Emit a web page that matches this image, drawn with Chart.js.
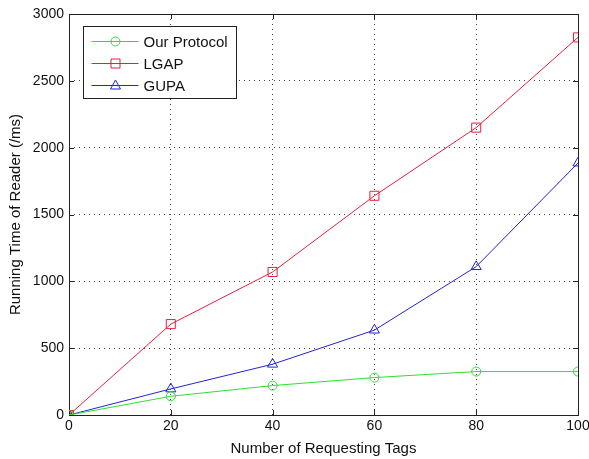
<!DOCTYPE html>
<html>
<head>
<meta charset="utf-8">
<script src="https://cdn.jsdelivr.net/npm/chart.js@4/dist/chart.umd.min.js"></script>
<style>
  html, body { margin: 0; padding: 0; background: #fff; }
  #wrap { width: 589px; height: 459px; }
</style>
</head>
<body>
<div id="wrap"><canvas id="chart"></canvas></div>
<script>
// Data
const tags = [0, 20, 40, 60, 80, 100];
const ourProtocol = [0, 140, 220, 280, 325, 325];
const lgap = [0, 680, 1070, 1640, 2150, 2825];
const gupa = [0, 195, 380, 635, 1110, 1885];
const seriesNames = ['Our Protocol', 'LGAP', 'GUPA'];

const FONT = 'Liberation Sans, Arial, sans-serif';
const GREEN = '#2ee02e';
const RED = '#e4203c';
const BLUE = '#2323d8';

function points(values) {
    return tags.map((t, i) => ({ x: t, y: values[i] }));
}

// marker drawing shared by the legend
function drawMarker(ctx, style, x, y, color) {
    ctx.save();
    ctx.strokeStyle = color;
    ctx.lineWidth = 1;
    ctx.beginPath();
    if (style === 'circle') {
        ctx.arc(x, y, 4.5, 0, Math.PI * 2);
    } else if (style === 'rect') {
        ctx.rect(x - 4.5, y - 4.5, 9, 9);
    } else {
        ctx.moveTo(x, y - 5.5);
        ctx.lineTo(x + 5, y + 3.5);
        ctx.lineTo(x - 5, y + 3.5);
        ctx.closePath();
    }
    ctx.stroke();
    ctx.restore();
}

// Axes box with inward ticks (matlab look)
const framePlugin = {
    id: 'frame',
    beforeDatasetsDraw(chart) {
        const ctx = chart.ctx;
        const a = chart.chartArea;
        const xs = chart.scales.x, ys = chart.scales.y;
        ctx.save();
        ctx.strokeStyle = '#222';
        ctx.lineWidth = 1;
        ctx.strokeRect(Math.round(a.left) + 0.5, Math.round(a.top) + 0.5,
            Math.round(a.right - a.left), Math.round(a.bottom - a.top));
        ctx.beginPath();
        xs.ticks.forEach(t => {
            const px = Math.round(xs.getPixelForValue(t.value)) + 0.5;
            ctx.moveTo(px, a.bottom); ctx.lineTo(px, a.bottom - 5);
            ctx.moveTo(px, a.top); ctx.lineTo(px, a.top + 5);
        });
        ys.ticks.forEach(t => {
            const py = Math.round(ys.getPixelForValue(t.value)) + 0.5;
            ctx.moveTo(a.left, py); ctx.lineTo(a.left + 5, py);
            ctx.moveTo(a.right, py); ctx.lineTo(a.right - 5, py);
        });
        ctx.stroke();
        ctx.restore();
    },
    afterDraw(chart) {
        // legend box inside the axes
        const ctx = chart.ctx;
        const a = chart.chartArea;
        const bx = a.left + 14.5, by = a.top + 12.5, bw = 153, bh = 72;
        ctx.save();
        ctx.fillStyle = '#fff';
        ctx.fillRect(bx, by, bw, bh);
        ctx.strokeStyle = '#222';
        ctx.lineWidth = 1;
        ctx.strokeRect(bx, by, bw, bh);
        const styles = ['circle', 'rect', 'triangle'];
        const colors = [GREEN, RED, BLUE];
        ctx.font = '15px ' + FONT;
        ctx.textBaseline = 'middle';
        seriesNames.forEach((name, i) => {
            const ry = Math.round(by + 14 + i * 22) + 0.5;
            ctx.strokeStyle = colors[i];
            ctx.beginPath();
            ctx.moveTo(bx + 8, ry);
            ctx.lineTo(bx + 55, ry);
            ctx.stroke();
            drawMarker(ctx, styles[i], bx + 32, ry, colors[i]);
            ctx.fillStyle = '#111';
            ctx.fillText(name, bx + 60, ry + 1);
        });
        ctx.restore();
    }
};

const ctx = document.getElementById('chart').getContext('2d');
new Chart(ctx, {
    type: 'line',
    data: {
        datasets: [
            {
                label: seriesNames[0],
                data: points(ourProtocol),
                borderColor: GREEN,
                backgroundColor: 'transparent',
                borderWidth: 1,
                pointStyle: 'circle',
                pointRadius: 4.5,
                pointBorderColor: GREEN,
                pointBackgroundColor: 'transparent',
                pointBorderWidth: 1
            },
            {
                label: seriesNames[1],
                data: points(lgap),
                borderColor: RED,
                backgroundColor: 'transparent',
                borderWidth: 1,
                pointStyle: 'rect',
                pointRadius: 6.4,
                pointBorderColor: RED,
                pointBackgroundColor: 'transparent',
                pointBorderWidth: 1
            },
            {
                label: seriesNames[2],
                data: points(gupa),
                borderColor: BLUE,
                backgroundColor: 'transparent',
                borderWidth: 1,
                pointStyle: 'triangle',
                pointRadius: 5.8,
                pointBorderColor: BLUE,
                pointBackgroundColor: 'transparent',
                pointBorderWidth: 1
            }
        ]
    },
    options: {
        responsive: true,
        maintainAspectRatio: false,
        animation: false,
        layout: { padding: { left: 0, top: 14, right: 11, bottom: 0 } },
        plugins: {
            legend: { display: false },
            tooltip: { enabled: false }
        },
        scales: {
            x: {
                type: 'linear',
                min: 0,
                max: 100,
                afterFit: s => { s.height = 44; s.paddingRight = 0; s.paddingLeft = 0; },
                ticks: {
                    stepSize: 20,
                    color: '#111',
                    padding: 3,
                    font: { family: FONT, size: 14 },
                    callback: v => String(v)
                },
                grid: { color: '#444', lineWidth: 1, drawTicks: false },
                border: { display: false, dash: [1, 4] },
                title: {
                    display: true,
                    text: 'Number of Requesting Tags',
                    color: '#111',
                    font: { family: FONT, size: 15 },
                    padding: { top: 0, bottom: 1 }
                }
            },
            y: {
                min: 0,
                max: 3000,
                afterFit: s => { s.width = 69; },
                ticks: {
                    stepSize: 500,
                    color: '#111',
                    padding: 5,
                    font: { family: FONT, size: 14 },
                    callback: v => String(v)
                },
                grid: { color: '#444', lineWidth: 1, drawTicks: false },
                border: { display: false, dash: [1, 4] },
                title: {
                    display: true,
                    text: 'Running Time of Reader (/ms)',
                    color: '#111',
                    font: { family: FONT, size: 15 },
                    padding: { top: 7, bottom: 0 }
                }
            }
        }
    },
    plugins: [framePlugin]
});
</script>
</body>
</html>
